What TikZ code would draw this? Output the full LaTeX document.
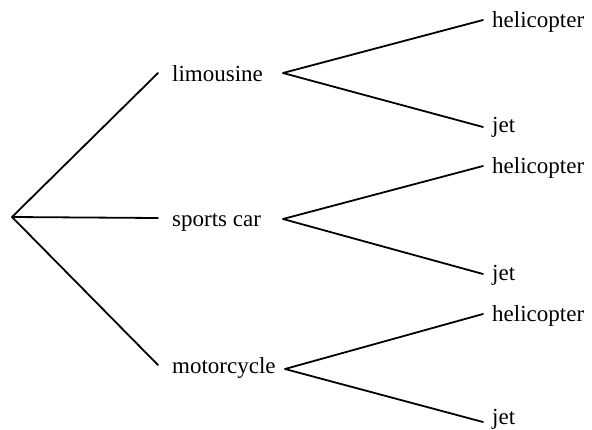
\documentclass[tikz,border=0pt]{standalone}
\usepackage{fontspec}
\setmainfont{Liberation Serif}
\begin{document}
\begin{tikzpicture}[x=1pt,y=-1pt,
  lbl/.style={anchor=base west,inner sep=0pt,font=\fontsize{23}{26}\selectfont},
  branch/.style={line width=1.8pt,line cap=round,line join=round}]
\useasboundingbox (0,0) rectangle (592,429);
% root
\coordinate (root) at (12,217);
% first level labels
\node[lbl] (lim) at (172,81) {limousine};
\node[lbl] (spc) at (172,226) {sports car};
\node[lbl] (mot) at (172,373) {motorcycle};
% joints
\coordinate (limIn) at (158,73);
\coordinate (spcIn) at (158,218);
\coordinate (motIn) at (158,365);
\coordinate (limOut) at (283,73);
\coordinate (spcOut) at (283,219);
\coordinate (motOut) at (285,369);
% second level labels
\node[lbl] (h1) at (492,27) {helicopter};
\node[lbl] (j1) at (492,132) {jet};
\node[lbl] (h2) at (492,173) {helicopter};
\node[lbl] (j2) at (492,280) {jet};
\node[lbl] (h3) at (492,321) {helicopter};
\node[lbl] (j3) at (492,424) {jet};
\coordinate (h1In) at (483,20);
\coordinate (j1In) at (483,127);
\coordinate (h2In) at (483,166);
\coordinate (j2In) at (483,274);
\coordinate (h3In) at (483,314);
\coordinate (j3In) at (483,422);
% connectors
\draw[branch] (limIn) -- (root) -- (motIn);
\draw[branch] (root) -- (spcIn);
\draw[branch] (h1In) -- (limOut) -- (j1In);
\draw[branch] (h2In) -- (spcOut) -- (j2In);
\draw[branch] (h3In) -- (motOut) -- (j3In);
\end{tikzpicture}
\end{document}
